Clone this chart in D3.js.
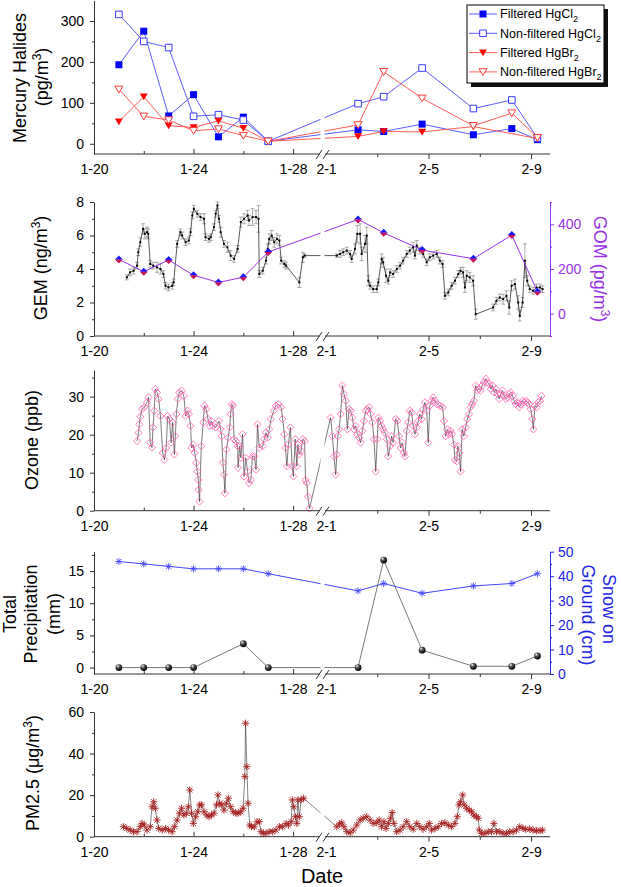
<!DOCTYPE html>
<html>
<head>
<meta charset="utf-8">
<script src="https://cdn.jsdelivr.net/npm/d3@7"></script>
<style>
  body { margin: 0; background: #fff; }
  text { font-family: "Liberation Sans", Arial, Helvetica, sans-serif; }
</style>
</head>
<body>
<svg id="chart" width="621" height="887"></svg>
<script>
// ---- data (days counted from Jan 0, so Feb 1 = 32) ----
const dayTicks = [20, 24, 28, 32, 36, 40];
const dayLabels = ["1-20", "1-24", "1-28", "2-1", "2-5", "2-9"];
const dayMinor = [22, 26, 34, 38];

const sampleDays = [21, 22, 23, 24, 25, 26, 27, 33.25, 34.25, 35.75, 37.75, 39.25, 40.25];
const filteredHgCl2 = [193, 275, 68, 120, 17, 65, 6, 34, 30, 48, 22, 37, 10];
const nonFilteredHgCl2 = [316, 250, 235, 67, 71, 58, 6, 98, 115, 185, 86, 107, 14];
const filteredHgBr2 = [54, 115, 44, 40, 56, 38, 6, 18, 30, 29, 42, null, 13];
const nonFilteredHgBr2 = [133, 67, 58, 32, 36, 20, 6, 46, 176, 111, 44, 75, 15];

const gomValues = [243, 188, 240, 172, 140, 163, 276, 422, 362, 285, 246, 352, 98];

const precipDays = [21, 22, 23, 24, 26, 27, 33.25, 34.25, 35.75, 37.75, 39.25, 40.25];
const precipValues = [0, 0, 0, 0, 3.7, 0, 0, 16.7, 2.7, 0.2, 0.2, 1.8];
const snowValues = [46, 45, 44, 43, 43, 43, 41, 34, 37, 33, 36, 37, 41];

// [day, GEM ng/m3, error]
const gem = [
  [21.32,3.5,0.15],[21.45,3.8,0.2],[21.59,3.9,0.2],[21.73,4.2,0.2],[21.78,5.0,0.2],[21.86,5.6,0.25],[21.97,6.4,0.3],
  [22.04,6.1,0.3],[22.13,6.2,0.3],[22.18,6.1,0.3],[22.26,4.3,0.2],[22.38,4.2,0.2],[22.53,4.1,0.3],[22.67,4.0,0.3],
  [22.79,3.7,0.2],[22.87,3.0,0.2],[22.99,2.9,0.2],[23.14,3.0,0.2],[23.20,3.2,0.2],[23.34,5.5,0.2],[23.47,6.2,0.2],
  [23.54,6.0,0.2],[23.68,5.6,0.2],[23.81,5.7,0.2],[23.88,6.2,0.2],[23.95,7.2,0.2],[24.01,7.6,0.2],[24.15,7.3,0.2],
  [24.28,7.1,0.2],[24.42,7.0,0.3],[24.48,5.9,0.2],[24.62,5.8,0.2],[24.69,5.9,0.2],[24.82,6.5,0.2],[24.89,7.3,0.2],
  [24.96,7.8,0.2],[25.02,7.0,0.2],[25.09,6.2,0.3],[25.22,5.5,0.2],[25.36,5.3,0.3],[25.49,4.8,0.3],[25.63,4.6,0.2],
  [25.77,5.2,0.2],[25.90,6.8,0.3],[26.03,7.0,0.3],[26.17,7.2,0.3],[26.23,6.9,0.3],[26.37,7.1,0.5],[26.51,7.1,0.4],
  [26.61,7.0,0.8],[26.64,3.7,0.2],[26.78,3.9,0.2],[26.91,4.5,0.2],[26.98,5.2,0.3],[27.04,5.8,0.3],[27.14,6.0,0.3],
  [27.24,5.6,0.3],[27.35,5.8,0.3],[27.45,5.7,0.3],[27.52,4.5,0.2],[27.65,4.3,0.2],[27.72,4.2,0.2],[28.25,3.2,0.3],
  [28.39,4.7,0.3],[28.46,4.8,0.1],
  [32.42,4.8,0.1],[32.55,4.9,0.2],[32.67,5.0,0.2],[32.81,5.1,0.2],[32.94,4.9,0.2],[33.00,4.6,0.2],[33.13,5.2,0.3],
  [33.22,6.1,0.5],[33.33,6.1,0.6],[33.39,4.9,0.4],[33.52,5.5,0.5],[33.59,6.0,0.5],[33.65,3.3,0.3],[33.72,3.0,0.2],
  [33.84,2.8,0.2],[33.98,2.8,0.2],[34.04,3.2,0.2],[34.17,4.6,0.3],[34.23,4.4,0.3],[34.34,3.6,0.4],[34.43,3.3,0.2],
  [34.50,3.8,0.2],[34.62,3.7,0.2],[34.76,4.0,0.2],[34.89,4.2,0.2],[35.01,4.5,0.2],[35.15,4.9,0.2],[35.27,5.1,0.2],
  [35.40,5.3,0.3],[35.47,4.8,0.2],[35.54,5.4,0.3],[35.66,5.1,0.2],[35.79,4.9,0.2],[35.93,4.4,0.2],[36.05,4.7,0.2],
  [36.18,4.8,0.2],[36.32,4.9,0.2],[36.44,4.5,0.2],[36.55,4.3,0.2],[36.64,2.4,0.2],[36.77,2.6,0.2],[36.90,3.0,0.2],
  [37.03,3.3,0.2],[37.16,3.7,0.2],[37.25,3.9,0.2],[37.35,3.8,0.3],[37.42,2.9,0.3],[37.49,3.6,0.3],[37.61,3.5,0.3],
  [37.74,3.3,0.3],[37.84,1.3,0.3],[38.52,1.7,0.2],[38.65,2.1,0.2],[38.78,2.3,0.2],[38.91,2.2,0.3],[39.04,2.4,0.3],
  [39.15,1.7,0.4],[39.24,3.0,0.3],[39.37,3.1,0.3],[39.50,2.0,0.4],[39.56,1.2,0.3],[39.67,2.0,0.3],[39.76,4.5,1.0],
  [39.85,3.3,0.3],[39.95,2.8,0.2],[40.08,2.7,0.2],[40.21,2.9,0.2],[40.35,2.9,0.2],[40.45,2.8,0.2]
];

// [day, ozone ppb]
const ozone = [
  [21.73,18.3],[21.79,20.5],[21.82,22.7],[21.86,24.7],[21.93,26.7],[22.02,27.2],[22.13,28.5],[22.19,29.8],[22.26,17.9],
  [22.33,16.6],[22.37,21.9],[22.42,26.3],[22.46,32.0],[22.53,31.1],[22.60,29.4],[22.67,24.9],[22.76,15.2],[22.83,13.4],
  [22.90,16.5],[22.96,24.9],[23.03,24.1],[23.10,17.9],[23.16,23.2],[23.23,14.8],[23.27,19.6],[23.31,25.4],[23.37,29.4],
  [23.43,31.1],[23.52,31.6],[23.61,30.2],[23.68,24.9],[23.75,26.3],[23.81,25.4],[23.88,22.3],[23.92,16.5],[23.99,17.4],
  [24.05,15.2],[24.11,12.6],[24.15,10.3],[24.19,8.1],[24.21,5.5],[24.24,2.4],[24.31,17.0],[24.39,23.2],[24.44,27.6],
  [24.51,26.7],[24.58,24.1],[24.65,22.3],[24.72,23.6],[24.78,22.3],[24.89,21.9],[25.02,23.6],[25.09,21.4],[25.13,19.6],
  [25.18,12.6],[25.22,9.5],[25.26,4.6],[25.32,16.1],[25.39,19.2],[25.45,21.9],[25.49,25.4],[25.54,28.0],[25.58,27.6],
  [25.63,18.8],[25.70,18.3],[25.77,17.0],[25.79,11.3],[25.85,17.0],[25.90,13.9],[25.97,20.1],[26.03,9.0],[26.10,13.9],
  [26.17,10.3],[26.23,7.3],[26.30,8.1],[26.37,14.3],[26.44,14.3],[26.51,10.8],[26.57,22.7],[26.64,16.5],[26.78,17.0],
  [26.84,18.8],[26.91,20.5],[26.98,19.2],[27.04,21.4],[27.11,24.1],[27.22,26.3],[27.31,27.6],[27.41,28.0],[27.52,27.2],
  [27.58,24.1],[27.65,20.1],[27.69,16.5],[27.75,11.7],[27.81,17.4],[27.89,21.9],[27.96,11.7],[28.01,9.0],[28.08,18.8],
  [28.15,11.7],[28.19,17.4],[28.25,14.8],[28.32,15.7],[28.39,18.8],[28.46,18.3],[28.50,8.1],[28.55,7.3],[28.59,3.7],
  [28.66,0.6],
  [32.18,24.5],[32.25,19.6],[32.31,14.3],[32.38,9.5],[32.42,14.8],[32.46,19.6],[32.51,21.4],[32.57,25.4],[32.64,32.9],
  [32.70,30.7],[32.77,28.9],[32.83,21.4],[32.90,26.7],[32.96,26.3],[33.03,24.5],[33.09,21.4],[33.16,22.3],[33.22,20.1],
  [33.29,19.2],[33.35,17.9],[33.42,21.0],[33.48,23.6],[33.55,26.3],[33.61,26.7],[33.68,27.2],[33.74,25.4],[33.81,23.2],
  [33.87,18.8],[33.94,10.3],[34.00,18.8],[34.04,24.5],[34.11,23.6],[34.17,22.3],[34.23,21.4],[34.30,20.5],[34.37,18.8],
  [34.43,14.3],[34.50,17.0],[34.56,19.6],[34.62,17.9],[34.72,24.1],[34.78,23.6],[34.85,19.6],[34.91,16.5],[34.97,17.9],
  [35.04,15.2],[35.08,14.3],[35.15,21.0],[35.21,23.2],[35.27,26.3],[35.34,25.8],[35.40,22.3],[35.47,20.1],[35.54,21.9],
  [35.60,23.6],[35.66,25.4],[35.73,24.1],[35.79,26.7],[35.86,28.5],[35.93,26.3],[35.99,17.9],[36.05,27.6],[36.12,28.9],
  [36.18,29.8],[36.25,28.9],[36.34,28.0],[36.44,27.6],[36.55,27.2],[36.60,23.6],[36.67,19.6],[36.73,21.4],[36.80,20.1],
  [36.86,21.0],[36.92,20.1],[36.99,17.4],[37.03,13.4],[37.10,13.0],[37.14,17.0],[37.20,15.2],[37.25,10.3],[37.31,21.4],
  [37.38,19.6],[37.45,21.9],[37.51,24.1],[37.58,25.4],[37.64,27.2],[37.70,28.0],[37.77,28.9],[37.84,32.9],[37.90,31.6],
  [37.96,32.0],[38.03,31.6],[38.09,32.9],[38.16,33.8],[38.24,34.7],[38.30,33.8],[38.37,33.3],[38.43,32.0],[38.50,32.9],
  [38.56,31.1],[38.63,32.0],[38.69,30.7],[38.76,29.4],[38.82,30.7],[38.89,31.6],[38.95,30.2],[39.02,29.4],[39.08,29.8],
  [39.15,30.7],[39.21,31.1],[39.28,30.2],[39.34,28.9],[39.40,28.0],[39.47,28.5],[39.54,27.2],[39.60,28.0],[39.67,28.9],
  [39.73,28.5],[39.80,28.9],[39.86,28.5],[39.92,28.0],[39.99,26.7],[40.05,24.1],[40.09,21.4],[40.15,27.6],[40.22,27.2],
  [40.28,28.5],[40.35,28.9],[40.41,30.2]
];

// [day, PM2.5 ug/m3]
const pm25 = [
  [21.18,4.8],[21.32,4.0],[21.45,3.2],[21.59,2.4],[21.73,2.4],[21.86,4.8],[21.93,6.4],[22.02,5.6],[22.13,3.2],[22.26,4.8],
  [22.33,14.4],[22.40,16.8],[22.46,13.7],[22.53,8.0],[22.60,4.0],[22.74,3.2],[22.87,4.0],[23.00,3.2],[23.14,2.4],[23.23,4.8],
  [23.34,8.0],[23.43,11.3],[23.52,13.7],[23.61,10.4],[23.71,11.3],[23.79,14.4],[23.85,22.5],[23.92,11.3],[23.99,6.4],
  [24.08,9.6],[24.17,12.0],[24.25,15.3],[24.32,15.3],[24.42,12.0],[24.53,10.4],[24.62,9.6],[24.72,10.4],[24.82,11.3],
  [24.92,15.3],[24.98,20.1],[25.05,16.1],[25.13,15.3],[25.22,12.8],[25.32,16.1],[25.40,18.5],[25.49,14.4],[25.59,12.0],
  [25.70,11.3],[25.79,11.3],[25.90,12.0],[25.99,13.7],[26.06,28.9],[26.09,54.6],[26.14,33.7],[26.19,16.1],[26.26,5.6],
  [26.33,4.8],[26.44,4.8],[26.55,7.2],[26.64,7.2],[26.71,2.4],[26.80,1.6],[26.91,1.6],[27.04,2.4],[27.18,2.4],[27.31,3.2],
  [27.45,4.8],[27.58,4.8],[27.72,6.4],[27.81,5.6],[27.92,7.2],[27.97,17.7],[28.03,14.4],[28.09,9.6],[28.15,6.4],
  [28.19,17.7],[28.25,9.6],[28.32,17.7],[28.42,18.5],
  [32.42,4.8],[32.52,6.1],[32.61,6.7],[32.70,4.8],[32.81,2.4],[32.94,1.9],[33.06,3.2],[33.20,5.6],[33.33,8.0],[33.45,8.9],
  [33.59,9.6],[33.72,8.0],[33.84,6.4],[33.98,6.7],[34.07,8.0],[34.17,4.8],[34.26,7.2],[34.34,4.0],[34.43,6.4],[34.52,8.9],
  [34.58,11.6],[34.65,6.4],[34.76,2.4],[34.89,3.2],[35.01,4.8],[35.15,7.2],[35.27,4.8],[35.40,3.6],[35.54,6.4],[35.66,4.8],
  [35.79,3.6],[35.93,4.8],[36.03,6.4],[36.12,3.2],[36.25,4.0],[36.38,4.8],[36.51,6.4],[36.64,6.7],[36.77,5.6],[36.90,4.8],
  [37.03,6.4],[37.12,9.6],[37.19,15.3],[37.25,16.8],[37.33,20.1],[37.39,15.3],[37.49,13.7],[37.59,12.8],[37.68,12.0],
  [37.77,10.4],[37.87,9.6],[37.94,8.9],[37.98,3.2],[38.07,1.6],[38.20,1.6],[38.33,2.4],[38.46,2.4],[38.55,6.4],[38.65,2.4],
  [38.78,2.4],[38.91,1.6],[39.04,1.6],[39.17,2.4],[39.30,2.4],[39.43,3.2],[39.56,4.8],[39.69,4.0],[39.79,3.6],[39.95,3.6],
  [40.08,3.2],[40.21,2.9],[40.35,2.9],[40.45,3.2]
];

// ---- scales ----
const svg = d3.select("#chart");
const breakL = 29.08, breakR = 31.96;
// broken date axis: two linear pieces with a small gap between them
const x = d3.scaleLinear().domain([20, breakL, breakR, 40.74]).range([94, 320, 325, 550]);
const axisColor = "#333";
const purple = "#9a32e6";
const snowBlue = "#2424e8";

const defs = svg.append("defs");
const ball = defs.append("radialGradient").attr("id", "ball").attr("cx", "35%").attr("cy", "30%").attr("r", "70%");
ball.append("stop").attr("offset", "0%").attr("stop-color", "#fff");
ball.append("stop").attr("offset", "35%").attr("stop-color", "#555");
ball.append("stop").attr("offset", "100%").attr("stop-color", "#000");

const lineOf = (y) => d3.line().x(d => x(d[0])).y(d => y(d[1]));
const zipDays = (days, vals) => days.map((d, i) => [d, vals[i]]).filter(d => d[1] != null);

// marker shapes
const sq = r => `M${-r},${-r}H${r}V${r}H${-r}Z`;
const triDown = r => `M${-r},${-r * 0.8}H${r}L0,${r * 0.9}Z`;
const diamond = r => `M0,${-r}L${r},0L0,${r}L${-r},0Z`;
const star = r => { const a = r * 0.72; return `M${-r},0H${r}M0,${-r}V${r}M${-a},${-a}L${a},${a}M${-a},${a}L${a},${-a}`; };

function yAxisLeft(y, major, minor) {
  const g = svg.append("g").attr("transform", "translate(94,0)");
  g.call(d3.axisLeft(y).tickValues(major).tickSize(4).tickSizeOuter(0).tickPadding(6));
  g.append("g").call(d3.axisLeft(y).tickValues(minor).tickSize(2).tickFormat(""))
    .select(".domain").remove();
  g.selectAll("path,line").attr("stroke", axisColor);
  g.selectAll("text").attr("font-size", 14).attr("fill", "#000")
    .attr("font-family", '"Liberation Sans", Arial, sans-serif');
  return g;
}

function yAxisRight(y, major, minor, color) {
  const g = svg.append("g").attr("transform", "translate(550,0)");
  g.call(d3.axisRight(y).tickValues(major).tickSize(4).tickSizeOuter(0).tickPadding(4));
  g.append("g").call(d3.axisRight(y).tickValues(minor).tickSize(2).tickFormat(""))
    .select(".domain").remove();
  g.selectAll("path,line").attr("stroke", color);
  g.selectAll("text").attr("font-size", 14).attr("fill", color)
    .attr("font-family", '"Liberation Sans", Arial, sans-serif');
  return g;
}

function xAxis(yPos, top) {
  // blank the data lines where the axis is broken
  svg.append("rect").attr("x", x(breakL) + 0.5).attr("width", x(breakR) - x(breakL) - 1)
    .attr("y", top).attr("height", yPos - top - 0.5).attr("fill", "#fff");
  const g = svg.append("g").attr("transform", `translate(0,${yPos})`);
  g.call(d3.axisBottom(x).tickValues(dayTicks).tickFormat((d, i) => dayLabels[i])
    .tickSize(5).tickSizeOuter(0).tickPadding(5));
  g.append("g").call(d3.axisBottom(x).tickValues(dayMinor).tickSize(3).tickFormat(""))
    .select(".domain").remove();
  g.selectAll(".domain").remove();
  // left piece has its ticks pointing inward
  g.selectAll(".tick").filter(d => d < breakL).select("line").attr("y2", d => dayMinor.includes(d) ? -3 : -5);
  g.selectAll(".tick").filter(d => d === 32).select("line").remove();
  g.append("line").attr("x1", x(20)).attr("x2", x(breakL)).attr("y1", 0).attr("y2", 0);
  g.append("line").attr("x1", x(breakR)).attr("x2", x.range()[3]).attr("y1", 0).attr("y2", 0);
  [x(breakL) - 1, x(breakR) + 1].forEach(bx => {
    g.append("line").attr("x1", bx - 3).attr("y1", 5).attr("x2", bx + 3).attr("y2", -4);
  });
  g.selectAll("line").attr("stroke", axisColor).attr("stroke-width", 1);
  g.selectAll("text").attr("font-size", 14).attr("fill", "#000")
    .attr("font-family", '"Liberation Sans", Arial, sans-serif');
}

// rotated axis title, parts = [[text, sup]]
function yTitle(cx, cy, rot, parts, color, size) {
  const t = svg.append("text").attr("transform", `translate(${cx},${cy}) rotate(${rot})`)
    .attr("text-anchor", "middle").attr("dy", "0.35em")
    .attr("font-size", size || 18).attr("fill", color || "#000");
  parts.forEach(p => {
    if (p.sup) {
      t.append("tspan").attr("dy", -7).attr("font-size", 12).text(p.sup);
      t.append("tspan").attr("dy", 7).text(p.after || "");
    } else {
      t.append("tspan").text(p.text);
    }
  });
  return t;
}

// ============ Panel 1: mercury halides ============
const y1 = d3.scaleLinear().domain([-25, 350]).range([154, 0.5]);
const halides = [
  { name: "Filtered HgCl", vals: filteredHgCl2, line: "#4a4aff", shape: sq(3.5), fill: "#0000ff", stroke: "none" },
  { name: "Non-filtered HgCl", vals: nonFilteredHgCl2, line: "#4a4aff", shape: sq(3.3), fill: "#fff", stroke: "#3a3aff" },
  { name: "Filtered HgBr", vals: filteredHgBr2, line: "#ff4a4a", shape: triDown(4), fill: "#ff0000", stroke: "none" },
  { name: "Non-filtered HgBr", vals: nonFilteredHgBr2, line: "#ff4a4a", shape: triDown(4), fill: "#fff", stroke: "#ff3a3a" }
];
halides.forEach(s => {
  const pts = zipDays(sampleDays, s.vals);
  svg.append("path").datum(pts).attr("d", lineOf(y1))
    .attr("fill", "none").attr("stroke", s.line).attr("stroke-width", 0.9);
  svg.append("g").selectAll("path").data(pts).join("path")
    .attr("transform", d => `translate(${x(d[0])},${y1(d[1])})`)
    .attr("d", s.shape).attr("fill", s.fill).attr("stroke", s.stroke).attr("stroke-width", 1);
});
xAxis(154, 0);
yAxisLeft(y1, [0, 100, 200, 300], [50, 150, 250]);
yTitle(20, 78, -90, [{ text: "Mercury Halides" }]);
yTitle(42, 77, -90, [{ text: "(pg/m" }, { sup: "3", after: ")" }]);

// legend
const leg = svg.append("g").attr("transform", "translate(467,5)");
leg.append("rect").attr("x", 4).attr("y", 4).attr("width", 137).attr("height", 78).attr("fill", "#111");
leg.append("rect").attr("width", 137).attr("height", 78).attr("fill", "#fff").attr("stroke", "#000");
halides.forEach((s, i) => {
  const ly = 9 + i * 19.3;
  leg.append("line").attr("x1", 2).attr("x2", 30).attr("y1", ly).attr("y2", ly)
    .attr("stroke", s.line).attr("stroke-width", 0.9);
  leg.append("path").attr("transform", `translate(16,${ly})`).attr("d", s.shape)
    .attr("fill", s.fill).attr("stroke", s.stroke);
  const t = leg.append("text").attr("x", 33).attr("y", ly).attr("dy", "0.35em").attr("font-size", 12.5);
  t.append("tspan").text(s.name);
  t.append("tspan").attr("dy", 4).attr("font-size", 9).text("2");
});

// ============ Panel 2: GEM and GOM ============
const y2 = d3.scaleLinear().domain([0, 8]).range([336, 202]);
const yGom = d3.scaleLinear().domain([-100, 500]).range([336, 202]);
const eb = svg.append("g").attr("stroke", "#777").attr("stroke-width", 0.6);
gem.forEach(d => {
  const cx = x(d[0]);
  eb.append("line").attr("x1", cx).attr("x2", cx).attr("y1", y2(d[1] - d[2])).attr("y2", y2(d[1] + d[2]));
  eb.append("line").attr("x1", cx - 2).attr("x2", cx + 2).attr("y1", y2(d[1] - d[2])).attr("y2", y2(d[1] - d[2]));
  eb.append("line").attr("x1", cx - 2).attr("x2", cx + 2).attr("y1", y2(d[1] + d[2])).attr("y2", y2(d[1] + d[2]));
});
svg.append("path").datum(gem).attr("d", lineOf(y2))
  .attr("fill", "none").attr("stroke", "#111").attr("stroke-width", 0.7);
svg.append("g").selectAll("rect").data(gem).join("rect")
  .attr("x", d => x(d[0]) - 1).attr("y", d => y2(d[1]) - 1).attr("width", 2).attr("height", 2).attr("fill", "#000");

const gomPts = zipDays(sampleDays, gomValues);
svg.append("path").datum(gomPts).attr("d", lineOf(yGom))
  .attr("fill", "none").attr("stroke", purple).attr("stroke-width", 1);
const gm = svg.append("g").selectAll("g").data(gomPts).join("g")
  .attr("transform", d => `translate(${x(d[0])},${yGom(d[1])})`);
gm.append("path").attr("d", "M0,-4L4,0H-4Z").attr("fill", "#1a1aff");
gm.append("path").attr("d", "M-4,0H4L0,4Z").attr("fill", "#c8105c");

xAxis(336, 196);
yAxisLeft(y2, [0, 2, 4, 6, 8], [1, 3, 5, 7]);
yAxisRight(yGom, [0, 200, 400], [-100, 100, 300, 500], purple);
yTitle(41, 268, -90, [{ text: "GEM (ng/m" }, { sup: "3", after: ")" }]);
yTitle(600, 269, 90, [{ text: "GOM (pg/m" }, { sup: "3", after: ")" }], purple);

// ============ Panel 3: ozone ============
const y3 = d3.scaleLinear().domain([0, 37]).range([510.7, 370]);
svg.append("path").datum(ozone).attr("d", lineOf(y3))
  .attr("fill", "none").attr("stroke", "#222").attr("stroke-width", 0.6);
svg.append("g").selectAll("path").data(ozone).join("path")
  .attr("transform", d => `translate(${x(d[0])},${y3(d[1])})`)
  .attr("d", diamond(3.6)).attr("fill", "none").attr("stroke", "#ff5cae").attr("stroke-width", 0.8);
xAxis(510.7, 365);
yAxisLeft(y3, [0, 10, 20, 30], [5, 15, 25, 35]);
yTitle(32, 440, -90, [{ text: "Ozone (ppb)" }]);

// ============ Panel 4: precipitation and snow ============
const y4 = d3.scaleLinear().domain([-1, 18]).range([674, 551.7]);
const ySnow = d3.scaleLinear().domain([0, 50]).range([674, 551.7]);
const snowPts = zipDays(sampleDays, snowValues);
svg.append("path").datum(snowPts).attr("d", lineOf(ySnow))
  .attr("fill", "none").attr("stroke", "#4545ff").attr("stroke-width", 1);
svg.append("g").selectAll("path").data(snowPts).join("path")
  .attr("transform", d => `translate(${x(d[0])},${ySnow(d[1])})`)
  .attr("d", star(3.5)).attr("fill", "none").attr("stroke", "#4545ff").attr("stroke-width", 0.9);
const precipPts = zipDays(precipDays, precipValues);
svg.append("path").datum(precipPts).attr("d", lineOf(y4))
  .attr("fill", "none").attr("stroke", "#555").attr("stroke-width", 0.8);
svg.append("g").selectAll("circle").data(precipPts).join("circle")
  .attr("cx", d => x(d[0])).attr("cy", d => y4(d[1])).attr("r", 3.4).attr("fill", "url(#ball)");
xAxis(674, 546);
yAxisLeft(y4, [0, 5, 10, 15], [2.5, 7.5, 12.5, 17.5]);
yAxisRight(ySnow, [0, 10, 20, 30, 40, 50], [5, 15, 25, 35, 45], snowBlue);
yTitle(10, 614, -90, [{ text: "Total" }]);
yTitle(31, 614, -90, [{ text: "Precipitation" }]);
yTitle(54, 614, -90, [{ text: "(mm)" }]);
yTitle(609, 609, 90, [{ text: "Snow on" }], snowBlue);
yTitle(588, 615, 90, [{ text: "Ground (cm)" }], snowBlue);

// ============ Panel 5: PM2.5 ============
const y5 = d3.scaleLinear().domain([0, 60]).range([836.7, 712]);
svg.append("path").datum(pm25).attr("d", lineOf(y5))
  .attr("fill", "none").attr("stroke", "#333").attr("stroke-width", 0.6);
svg.append("g").selectAll("path").data(pm25).join("path")
  .attr("transform", d => `translate(${x(d[0])},${y5(d[1])})`)
  .attr("d", star(3.6)).attr("fill", "none").attr("stroke", "#a81e1e").attr("stroke-width", 0.9);
xAxis(836.7, 706);
yAxisLeft(y5, [0, 20, 40, 60], [10, 30, 50]);
yTitle(33, 773, -90, [{ text: "PM2.5 (\u03bcg/m" }, { sup: "3", after: ")" }]);

svg.append("text").attr("x", 322).attr("y", 883).attr("text-anchor", "middle")
  .attr("font-size", 20).text("Date");
</script>
</body>
</html>
